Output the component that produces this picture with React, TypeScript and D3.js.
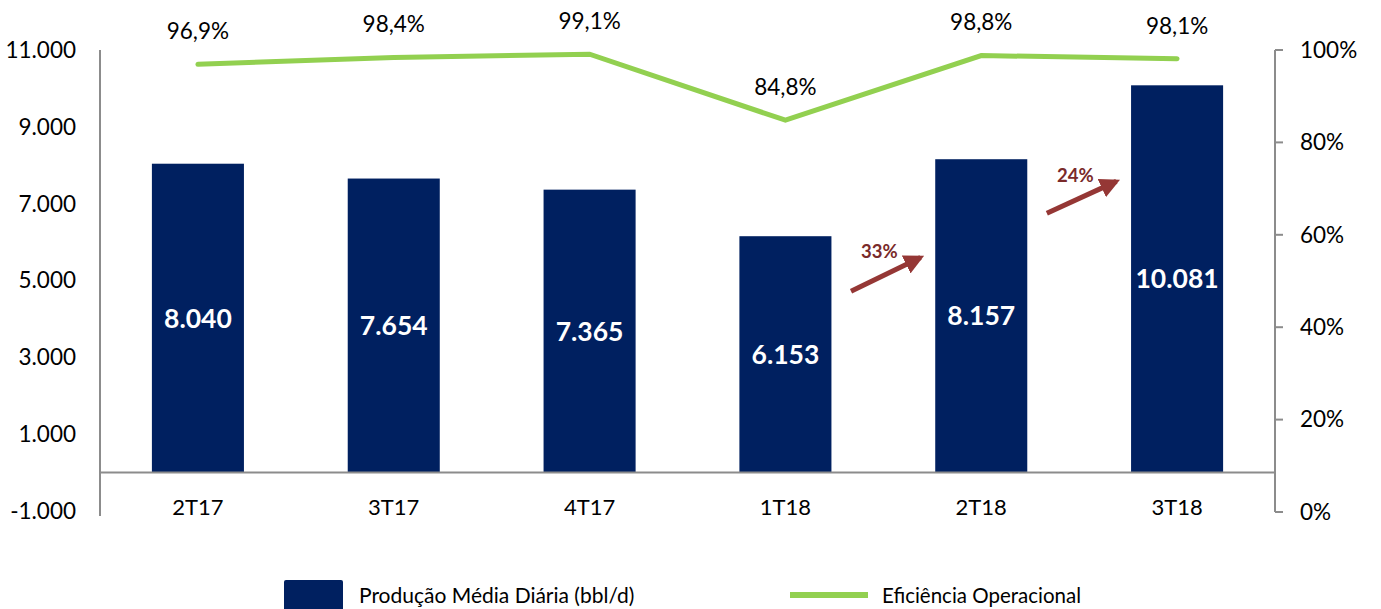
import React from 'react';
import * as d3 from 'd3';

const categories = ['2T17', '3T17', '4T17', '1T18', '2T18', '3T18'];
const producao = [8040, 7654, 7365, 6153, 8157, 10081];
const eficiencia = [96.9, 98.4, 99.1, 84.8, 98.8, 98.1];
const leftTicks = [-1000, 1000, 3000, 5000, 7000, 9000, 11000];
const rightTicks = [0, 20, 40, 60, 80, 100];
const growth = [
  { from: '1T18', to: '2T18', label: '33%', v0: 4720, v1: 5600 },
  { from: '2T18', to: '3T18', label: '24%', v0: 6750, v1: 7580 },
];

const W = 1381;
const H = 609;
const FONT = 'Lato, "Open Sans", sans-serif';
const NAVY = '#002060';
const GREEN = '#92D050';
const AXIS = '#8c8c8c';
const RED = '#953735';

const App = () => {
  const x = d3.scaleBand().domain(categories).range([100, 1275]).paddingInner(0.53).paddingOuter(0.265);
  const xc = (c) => (x(c) as number) + x.bandwidth() / 2;
  const step = x.step();
  const yL = d3.scaleLinear().domain([-1000, 11000]).range([511, 50]);
  const yR = d3.scaleLinear().domain([0, 100]).range([512, 50]);
  // pt-BR style: dot thousands, plain hyphen for negatives
  const fmtInt = (v) => (v < 0 ? '-' : '') + d3.format(',')(Math.abs(v)).replace(/,/g, '.');
  const fmtPct = (v) => v.toFixed(1).replace('.', ',') + '%';

  const line = d3.line<number>()
    .x((d, i) => xc(categories[i]))
    .y((d) => yR(d));

  return (
    <svg width={W} height={H} style={{ position: 'absolute', left: 0, top: 0 }} fontFamily={FONT}>
      <defs>
        <marker id="ah" viewBox="0 0 10 10" refX="8" refY="5" markerWidth="4" markerHeight="4" orient="auto">
          <path d="M0,0 L10,5 L0,10 z" fill={RED} />
        </marker>
      </defs>

      {/* bars */}
      {categories.map((c, i) => (
        <rect key={c} x={x(c)} y={yL(producao[i])} width={x.bandwidth()} height={yL(0) - yL(producao[i])} fill={NAVY} />
      ))}
      {categories.map((c, i) => (
        <text key={c} x={xc(c)} y={(yL(producao[i]) + yL(0)) / 2} dy="0.36em" textAnchor="middle"
          fill="#fff" fontWeight="bold" fontSize={26.5}>{fmtInt(producao[i])}</text>
      ))}

      {/* axes */}
      <line x1={100} x2={100} y1={50} y2={516} stroke={AXIS} strokeWidth={2} />
      <line x1={100} x2={1276} y1={yL(0)} y2={yL(0)} stroke={AXIS} strokeWidth={2} />
      <line x1={1275} x2={1275} y1={yR(100)} y2={yR(0)} stroke={AXIS} strokeWidth={2} />
      {rightTicks.map((t) => (
        <line key={t} x1={1275} x2={1283} y1={yR(t)} y2={yR(t)} stroke={AXIS} strokeWidth={2} />
      ))}
      {leftTicks.map((t) => (
        <text key={t} x={76} y={yL(t)} dy="0.35em" textAnchor="end" fontSize={22.5} fill="#000">{fmtInt(t)}</text>
      ))}
      {rightTicks.map((t) => (
        <text key={t} x={1300} y={yR(t)} dy="0.35em" textAnchor="start" fontSize={22.5} fill="#000">{t}%</text>
      ))}
      {categories.map((c) => (
        <text key={c} x={xc(c)} y={507} dy="0.35em" textAnchor="middle" fontSize={22} fill="#000">{c}</text>
      ))}

      {/* efficiency line */}
      <path d={line(eficiencia) as string} fill="none" stroke={GREEN} strokeWidth={5} strokeLinecap="round" />
      {categories.map((c, i) => (
        <text key={c} x={xc(c)} y={yR(eficiencia[i]) - 33} dy="0.35em" textAnchor="middle" fontSize={22.5} fill="#000">
          {fmtPct(eficiencia[i])}
        </text>
      ))}

      {/* growth arrows */}
      {growth.map((g) => {
        const xm = (xc(g.from) + xc(g.to)) / 2;
        const x0 = xm - step * 0.165;
        const x1 = xm + step * 0.19;
        return (
          <g key={g.label}>
            <line x1={x0} y1={yL(g.v0)} x2={x1} y2={yL(g.v1)} stroke={RED} strokeWidth={5} markerEnd="url(#ah)" />
            <text x={xm - step * 0.02} y={yL(g.v1) + 4} dy="-0.2em" textAnchor="middle" fontWeight="bold"
              fontSize={18.5} fill="#7a2a2a">{g.label}</text>
          </g>
        );
      })}

      {/* legend */}
      <rect x={284} y={580} width={59} height={34} rx={2} fill={NAVY} />
      <text x={359} y={603} fontSize={21} fill="#000">Produção Média Diária (bbl/d)</text>
      <line x1={790} x2={868} y1={595} y2={595} stroke={GREEN} strokeWidth={6} />
      <text x={882} y={603} fontSize={20.5} fill="#000">Eficiência Operacional</text>
    </svg>
  );
};

export default App;
